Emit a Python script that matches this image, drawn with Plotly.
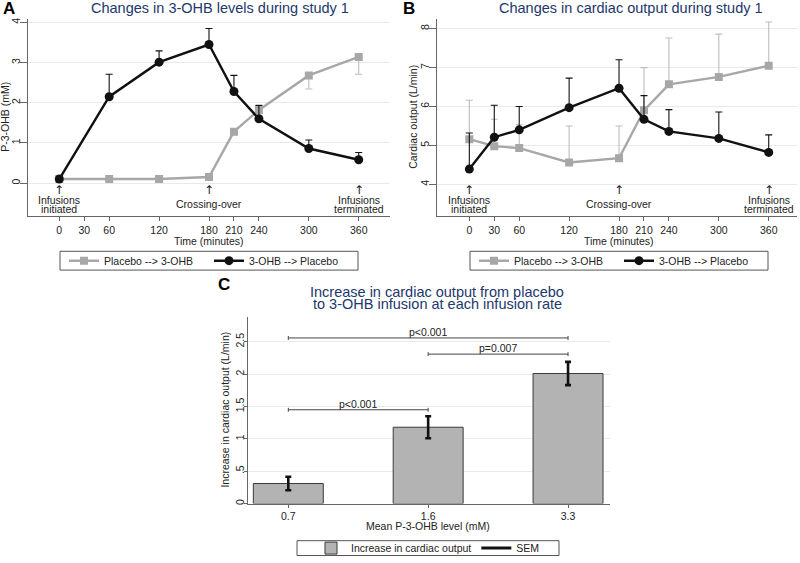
import plotly.graph_objects as go

W, H = 800, 563
FONT = "Liberation Sans, Arial, sans-serif"
NAVY = "#22376b"
GRAY = "#a7a7a7"
GRAY_ERR = "#bdbdbd"
BLACK = "#111111"
GRID = "#e4eaee"
AXIS = "#666666"

# ---------------- data ----------------
time_ticks = [0, 30, 60, 120, 180, 210, 240, 300, 360]

# Panel A: P-3-OHB (mM)
times_A = [0, 60, 120, 180, 210, 240, 300, 360]
placebo_A = [0.10, 0.10, 0.10, 0.15, 1.28, 1.82, 2.68, 3.14]
placebo_A_err_up = [0, 0, 0, 0, 0, 0.13, 0, 0]
placebo_A_err_down = [0, 0, 0, 0, 0, 0, 0.34, 0.43]
ohb_A = [0.10, 2.15, 3.01, 3.45, 2.28, 1.60, 0.86, 0.58]
ohb_A_err_up = [0, 0.56, 0.28, 0.40, 0.40, 0.33, 0.21, 0.18]

# Panel B: cardiac output (L/min)
times_B = [0, 30, 60, 120, 180, 210, 240, 300, 360]
placebo_B = [5.16, 4.98, 4.93, 4.56, 4.67, 5.90, 6.57, 6.76, 7.05]
placebo_B_err_up = [1.00, 0.69, 0.60, 0.94, 0.83, 1.10, 1.19, 1.10, 1.12]
ohb_B = [4.39, 5.21, 5.40, 5.97, 6.47, 5.67, 5.36, 5.18, 4.82]
ohb_B_err_up = [0.93, 0.82, 0.60, 0.76, 0.73, 0.61, 0.56, 0.68, 0.45]

series_names = ["Placebo --> 3-OHB", "3-OHB --> Placebo"]

event_times = [0, 180, 360]
event_labels = [["Infusions", "initiated"], ["Crossing-over"], ["Infusions", "terminated"]]

# Panel C
levels_C = ["0.7", "1.6", "3.3"]
increase_C = [0.31, 1.18, 2.01]
sem_C = [0.105, 0.17, 0.18]
comparisons = [  # (from index, to index, height, label)
    (0, 2, 2.56, "p<0.001"),
    (1, 2, 2.31, "p=0.007"),
    (0, 1, 1.45, "p<0.001"),
]

# ---------------- helpers ----------------
def fx(px):
    return px / W

def fy(px):
    return 1 - px / H

fig = go.Figure()

def line_trace(x, y, name, color, symbol, size, err_up, err_down, err_color, xa, ya, legend):
    return go.Scatter(
        x=x, y=y, name=name, mode="lines+markers",
        line=dict(color=color, width=2.4),
        marker=dict(color=color, symbol=symbol, size=size),
        error_y=dict(type="data", symmetric=False, array=err_up, arrayminus=err_down,
                     color=err_color, thickness=1.1, width=3.5),
        xaxis=xa, yaxis=ya, legend=legend,
    )

zeros8 = [0] * len(times_A)
zeros9 = [0] * len(times_B)
fig.add_trace(line_trace(times_A, placebo_A, series_names[0], GRAY, "square", 8,
                         placebo_A_err_up, placebo_A_err_down, GRAY_ERR, "x", "y", "legend"))
fig.add_trace(line_trace(times_A, ohb_A, series_names[1], BLACK, "circle", 9,
                         ohb_A_err_up, zeros8, BLACK, "x", "y", "legend"))
fig.add_trace(line_trace(times_B, placebo_B, series_names[0], GRAY, "square", 8,
                         placebo_B_err_up, zeros9, GRAY_ERR, "x2", "y2", "legend2"))
fig.add_trace(line_trace(times_B, ohb_B, series_names[1], BLACK, "circle", 9,
                         ohb_B_err_up, zeros9, BLACK, "x2", "y2", "legend2"))

fig.add_trace(go.Bar(
    x=list(range(len(levels_C))), y=increase_C, width=0.5,
    name="Increase in cardiac output",
    marker=dict(color="#b3b3b3", line=dict(color="#3a3a3a", width=1)),
    error_y=dict(type="data", array=sem_C, color=BLACK, thickness=2.6, width=3),
    xaxis="x3", yaxis="y3", legend="legend3",
))
fig.add_trace(go.Scatter(
    x=[None], y=[None], mode="lines", name="SEM",
    line=dict(color=BLACK, width=3), xaxis="x3", yaxis="y3", legend="legend3",
))

# significance brackets
shapes = []
annotations = []
for i0, i1, h, lab in comparisons:
    shapes.append(dict(type="line", xref="x3", yref="y3", x0=i0, x1=i1, y0=h, y1=h,
                       line=dict(color="#444", width=1)))
    for xi in (i0, i1):
        shapes.append(dict(type="line", xref="x3", yref="y3", x0=xi, x1=xi,
                           y0=h - 0.03, y1=h + 0.03, line=dict(color="#444", width=1)))
    annotations.append(dict(xref="x3", yref="y3", x=(i0 + i1) / 2, y=h, text=lab,
                            showarrow=False, yanchor="bottom", yshift=-2,
                            font=dict(size=10.5, color="#222")))

# legend frames
for (x0, x1, y0, y1) in [(60, 358, 254, 273), (470, 768, 254, 273), (297, 559, 546.5, 561.5)]:
    shapes.append(dict(type="rect", xref="paper", yref="paper", x0=fx(x0), x1=fx(x1),
                       y0=fy(y1), y1=fy(y0), line=dict(color="#555", width=1),
                       fillcolor="white", layer="below"))

# event annotations for panels A and B
for xa in ("x", "x2"):
    for t, lines in zip(event_times, event_labels):
        annotations.append(dict(xref=xa, yref="paper", x=t, y=fy(192), text="↑",
                                showarrow=False,
                                font=dict(size=12, color="#222", family="DejaVu Sans")))
        if len(lines) == 2:
            annotations.append(dict(xref=xa, yref="paper", x=t, y=fy(202.5), text=lines[0],
                                    showarrow=False, font=dict(size=10.5, color="#222")))
            annotations.append(dict(xref=xa, yref="paper", x=t, y=fy(211), text=lines[1],
                                    showarrow=False, font=dict(size=10.5, color="#222")))
        else:
            annotations.append(dict(xref=xa, yref="paper", x=t, y=fy(206), text=lines[0],
                                    showarrow=False, font=dict(size=10.5, color="#222")))

# titles and panel letters
def ann(x, y, text, size, color="#222", bold=False, angle=0):
    annotations.append(dict(xref="paper", yref="paper", x=fx(x), y=fy(y),
                            text=(f"<b>{text}</b>" if bold else text),
                            showarrow=False, textangle=angle, xanchor="center", yanchor="middle",
                            font=dict(size=size, color=color)))

ann(220, 8, "Changes in 3-OHB levels during study 1", 14.5, NAVY)
ann(631, 8, "Changes in cardiac output during study 1", 14.5, NAVY)
ann(437, 295, "Increase in cardiac output from placebo", 14.5, NAVY)
ann(437, 307.5, "to 3-OHB infusion at each infusion rate", 14.5, NAVY)
ann(9, 9, "A", 17, "#000", True)
ann(409, 9, "B", 17, "#000", True)
ann(224, 288, "C", 17, "#000", True)

# axis titles
ann(209, 243.5, "Time (minutes)", 10.5)
ann(619, 243.5, "Time (minutes)", 10.5)
ann(5, 118, "P-3-OHB (mM)", 10.5, angle=-90)
ann(413, 118, "Cardiac output (L/min)", 10.5, angle=-90)
ann(428, 531.5, "Mean P-3-OHB level (mM)", 10.5)
ann(225, 414, "Increase in cardiac output (L/min)", 10.5, angle=-90)

def xaxis_style(ticklen, standoff):
    return dict(showline=True, linecolor=AXIS, linewidth=1.2, ticks="outside", ticklen=ticklen,
                tickcolor=AXIS, showgrid=False, zeroline=False, ticklabelstandoff=standoff,
                tickfont=dict(size=10.5, color="#222"))

def yaxis_style(ticklen, standoff):
    return dict(showline=True, linecolor=AXIS, linewidth=1.2, ticks="outside", ticklen=ticklen,
                tickcolor=AXIS, showgrid=True, gridcolor=GRID, gridwidth=1, zeroline=False,
                tickangle=-90, ticklabelstandoff=standoff,
                tickfont=dict(size=10.5, color="#222"))

legend_common = dict(orientation="h", xanchor="center", yanchor="middle",
                     bgcolor="rgba(0,0,0,0)", borderwidth=0,
                     font=dict(size=10.5, color="#222"), entrywidth=100)

fig.update_layout(
    width=W, height=H, margin=dict(l=0, r=0, t=0, b=0),
    paper_bgcolor="white", plot_bgcolor="white",
    font=dict(family=FONT, color="#222"),
    xaxis=dict(domain=[fx(28), fx(390)], range=[-37.6, 397.6], tickvals=time_ticks,
               anchor="y", **xaxis_style(4, 1)),
    yaxis=dict(domain=[fy(218), fy(19)], range=[-0.813, 4.09], tickvals=[0, 1, 2, 3, 4],
               anchor="x", **yaxis_style(7, -4)),
    xaxis2=dict(domain=[fx(437.3), fx(797)], range=[-38.5, 394], tickvals=time_ticks,
                anchor="y2", **xaxis_style(4, 1)),
    yaxis2=dict(domain=[fy(218), fy(19)], range=[3.193, 8.254], tickvals=[4, 5, 6, 7, 8],
                anchor="x2", **yaxis_style(7, -4)),
    xaxis3=dict(domain=[fx(248.3), fx(610)], range=[-0.286, 2.30],
                tickvals=list(range(len(levels_C))), ticktext=levels_C, anchor="y3",
                **xaxis_style(3, 0)),
    yaxis3=dict(domain=[fy(509), fy(320)], range=[0, 2.89], tickvals=[0, 0.5, 1, 1.5, 2, 2.5],
                ticktext=["0", ".5", "1", "1.5", "2", "2.5"], anchor="x3",
                **yaxis_style(3, -4)),
    legend=dict(x=fx(209), y=fy(263.5), **legend_common),
    legend2=dict(x=fx(619), y=fy(263.5), **legend_common),
    legend3=dict(x=fx(428), y=fy(554), **{**legend_common, "entrywidth": 0}),
    shapes=shapes, annotations=annotations, bargap=0.5,
)

fig.write_html(
    "out.html",
    config={"displayModeBar": False},
    post_script="document.body.style.margin='0px';document.body.style.overflow='hidden';",
)
